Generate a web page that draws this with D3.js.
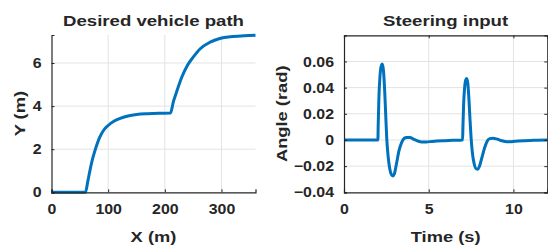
<!DOCTYPE html>
<html>
<head>
<meta charset="utf-8">
<script src="https://cdn.jsdelivr.net/npm/d3@7"></script>
<style>
  body { margin: 0; background: #fff; }
  text { font-family: "Liberation Sans", Arial, sans-serif; font-weight: bold; fill: #262626; }
</style>
</head>
<body>
<div id="chart"></div>
<script>
// desired vehicle path
const pathX = [0, 60, 64, 68, 72, 77, 85, 92, 100, 110, 120, 135, 150, 170, 190, 210,
  215, 220, 230, 240, 250, 262, 280, 297, 320, 340, 360];
const pathY = [0, 0, 0.5, 1.03, 1.5, 1.96, 2.55, 2.88, 3.1, 3.3, 3.42, 3.54, 3.61, 3.65, 3.67, 3.68,
  4.2, 4.6, 5.35, 5.9, 6.27, 6.65, 6.97, 7.14, 7.23, 7.27, 7.29];

// steering input
const steerT = [0, 2.0, 2.02, 2.06, 2.12, 2.19, 2.26, 2.33, 2.4, 2.46, 2.52, 2.6, 2.7, 2.8, 2.88, 2.97,
  3.1, 3.25, 3.4, 3.55, 3.7, 3.9, 4.1, 4.35, 4.6, 4.85, 5.2, 5.8, 6.4, 7.0,
  7.02, 7.06, 7.12, 7.19, 7.25, 7.31, 7.38, 7.44, 7.5, 7.58, 7.68, 7.8, 7.9, 8.0,
  8.15, 8.3, 8.45, 8.6, 8.8, 9.0, 9.25, 9.5, 9.75, 10.1, 10.6, 11.2, 12];
const steerA = [0, 0, 0.012, 0.032, 0.048, 0.056, 0.058, 0.053, 0.038, 0.02, 0.002, -0.012, -0.022, -0.0265, -0.0275, -0.026,
  -0.018, -0.008, -0.002, 0.0012, 0.0018, 0.0018, 0.0006, -0.0008, -0.0015, -0.0015, -0.0011, -0.0006, -0.0003, 0,
  0.01, 0.027, 0.04, 0.046, 0.047, 0.043, 0.03, 0.015, 0.002, -0.01, -0.018, -0.022, -0.0223, -0.02,
  -0.013, -0.006, -0.001, 0.001, 0.0013, 0.0008, -0.0004, -0.0011, -0.0013, -0.001, -0.0006, -0.0002, 0];

const xTicksL = [0, 100, 200, 300];
const yTicksL = [0, 2, 4, 6];
const xTicksR = [0, 5, 10];
const yTicksR = [-0.04, -0.02, 0, 0.02, 0.04, 0.06];

const width = 548, height = 247;
const svg = d3.select('#chart').append('svg')
  .attr('width', width)
  .attr('height', height);

const lineColor = '#0072bd';
const gridColor = '#e3e3e3';
const axisColor = '#262626';

// widen the text a bit, the reference glyphs are stretched horizontally
const stretch = (sel, k) => sel.each(function () {
  const w = this.getComputedTextLength();
  d3.select(this).attr('textLength', w * k).attr('lengthAdjust', 'spacingAndGlyphs');
});

const drawPanel = (opt) => {
  const { left, right, top, bottom } = opt;
  const x = d3.scaleLinear().domain(opt.xDomain).range([left, right]);
  const y = d3.scaleLinear().domain(opt.yDomain).range([bottom, top]);
  const g = svg.append('g');

  // grid
  g.selectAll('.gx').data(opt.xTicks.filter(d => d !== opt.xDomain[0]))
    .join('line')
    .attr('x1', d => x(d)).attr('x2', d => x(d))
    .attr('y1', top).attr('y2', bottom)
    .attr('stroke', gridColor).attr('stroke-width', 1);
  g.selectAll('.gy').data(opt.yTicks.filter(d => d !== opt.yDomain[0]))
    .join('line')
    .attr('x1', left).attr('x2', right)
    .attr('y1', d => y(d)).attr('y2', d => y(d))
    .attr('stroke', gridColor).attr('stroke-width', 1);

  // data line
  const line = d3.line()
    .x(d => x(d[0]))
    .y(d => y(d[1]))
    .curve(d3.curveMonotoneX);
  g.append('path')
    .datum(opt.xs.map((v, i) => [v, opt.ys[i]]))
    .attr('d', line)
    .attr('fill', 'none')
    .attr('stroke', lineColor)
    .attr('stroke-width', 3)
    .attr('stroke-linejoin', 'round');

  // axes, inward ticks like matlab
  const fmt = opt.fmt || (d => d);
  const xAxis = g.append('g')
    .attr('transform', `translate(0,${bottom})`)
    .call(d3.axisBottom(x).tickValues(opt.xTicks).tickSize(-3).tickPadding(12).tickFormat(fmt));
  const yAxis = g.append('g')
    .attr('transform', `translate(${left},0)`)
    .call(d3.axisLeft(y).tickValues(opt.yTicks).tickSize(-3).tickPadding(10).tickFormat(opt.yFmt || fmt));
  [xAxis, yAxis].forEach(a => {
    a.select('.domain').attr('stroke', axisColor).attr('stroke-width', 1.2);
    a.selectAll('.tick line').attr('stroke', axisColor);
    a.selectAll('.tick text')
      .attr('fill', axisColor)
      .style('font-size', '14.2px')
      .style('font-family', '"Liberation Sans", Arial, sans-serif')
      .style('font-weight', 'bold')
      .call(stretch, 1.12);
  });
  xAxis.selectAll('.tick text').attr('dy', '0.71em');

  if (opt.box) {
    g.append('g')
      .attr('transform', `translate(0,${top})`)
      .call(d3.axisTop(x).tickValues(opt.xTicks).tickSize(-3).tickFormat(''))
      .call(a => a.select('.domain').attr('stroke', axisColor).attr('stroke-width', 1.2))
      .call(a => a.selectAll('.tick line').attr('stroke', axisColor));
    g.append('g')
      .attr('transform', `translate(${right},0)`)
      .call(d3.axisRight(y).tickValues(opt.yTicks).tickSize(-3).tickFormat(''))
      .call(a => a.select('.domain').attr('stroke', axisColor).attr('stroke-width', 1.2))
      .call(a => a.selectAll('.tick line').attr('stroke', axisColor));
  }

  // title and labels
  g.append('text')
    .attr('x', (left + right) / 2).attr('y', 25.7)
    .attr('text-anchor', 'middle')
    .style('font-size', '15.5px')
    .text(opt.title)
    .call(stretch, 1.2);
  g.append('text')
    .attr('x', (left + right) / 2).attr('y', 241.5)
    .attr('text-anchor', 'middle')
    .style('font-size', '15.5px')
    .text(opt.xLabel)
    .call(stretch, 1.18);
  g.append('text')
    .attr('transform', `translate(${opt.yLabelX},${(top + bottom) / 2}) rotate(-90)`)
    .attr('text-anchor', 'middle')
    .style('font-size', '15.5px')
    .text(opt.yLabel)
    .call(stretch, 1.18);
};

drawPanel({
  left: 51.5, right: 255.5, top: 35, bottom: 192.3,
  xDomain: [0, 360], yDomain: [0, 7.3],
  xTicks: xTicksL, yTicks: yTicksL,
  xs: pathX, ys: pathY,
  title: 'Desired vehicle path', xLabel: 'X (m)', yLabel: 'Y (m)',
  yLabelX: 25, box: false
});

drawPanel({
  left: 344, right: 547.3, top: 35.3, bottom: 192.3,
  xDomain: [0, 12], yDomain: [-0.04, 0.08],
  xTicks: xTicksR, yTicks: yTicksR,
  xs: steerT, ys: steerA,
  yFmt: d => d === 0 ? '0' : d3.format('.2f')(d),
  title: 'Steering input', xLabel: 'Time (s)', yLabel: 'Angle (rad)',
  yLabelX: 287, box: true
});
</script>
</body>
</html>
